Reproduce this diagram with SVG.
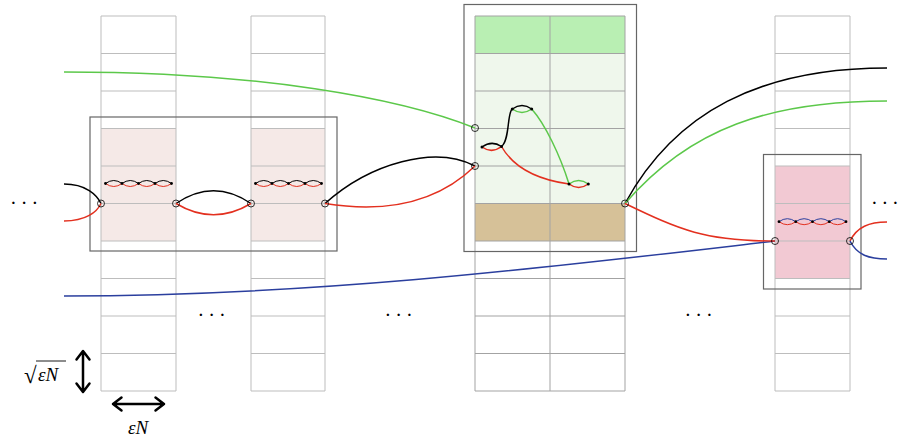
<svg xmlns="http://www.w3.org/2000/svg" width="898" height="438" viewBox="0 0 898 438">
<style>
.grid{stroke:#bdbdbd;stroke-width:1;fill:none}
.gridd{stroke:#a3a3a3;stroke-width:1;fill:none}
.box{stroke:#666;stroke-width:1.2;fill:none}
.c{fill:none;stroke-width:1.5}
.t{fill:none;stroke-width:1}
.k{stroke:#000}
.r{stroke:#e3301f}
.g{stroke:#5cc84a}
.b{stroke:#2b3f9e}
.port{fill:none;stroke:#000;stroke-width:0.8}
.dot{fill:#000}
.lbl{font-family:"Liberation Serif",serif;font-size:19px;font-style:italic;fill:#000}
.ell{font-family:"Liberation Serif",serif;font-size:15px;font-weight:bold;fill:#000}
.arr{fill:none;stroke:#000;stroke-width:2.5;stroke-linecap:round;stroke-linejoin:round}
</style>
<rect width="898" height="438" fill="#fff"/>

<!-- column 1 -->
<g id="col1">
<rect x="101" y="128.5" width="75" height="112.5" fill="#f5e9e7"/>
<path class="grid" d="M101,16V391M176,16V391M101,16H176M101,53.5H176M101,91H176M101,128.5H176M101,166H176M101,203.5H176M101,241H176M101,278.5H176M101,316H176M101,353.5H176M101,391H176"/>
</g>
<!-- column 2 -->
<g id="col2">
<rect x="251" y="128.5" width="74" height="112.5" fill="#f5e9e7"/>
<path class="grid" d="M251,16V391M325,16V391M251,16H325M251,53.5H325M251,91H325M251,128.5H325M251,166H325M251,203.5H325M251,241H325M251,278.5H325M251,316H325M251,353.5H325M251,391H325"/>
</g>
<!-- column 3 (middle) -->
<g id="col3">
<rect x="475" y="16" width="150" height="37.5" fill="#b9efb3"/>
<rect x="475" y="53.5" width="150" height="150" fill="#eff7ec"/>
<rect x="475" y="203.5" width="150" height="37.5" fill="#d6c198"/>
<path class="gridd" d="M475,16V391M550,16V391M625,16V391M475,16H625M475,53.5H625M475,91H625M475,128.5H625M475,166H625M475,203.5H625M475,241H625M475,278.5H625M475,316H625M475,353.5H625M475,391H625"/>
</g>
<!-- column 4 -->
<g id="col4">
<rect x="775" y="166" width="75" height="112.5" fill="#f2c9d3"/>
<path class="grid" d="M775,16V391M850,16V391M775,16H850M775,53.5H850M775,91H850M775,128.5H850M775,166H850M775,203.5H850M775,241H850M775,278.5H850M775,316H850M775,353.5H850M775,391H850"/>
</g>

<!-- boxes -->
<g id="box-left"><rect class="box" x="90" y="117" width="247" height="134"/></g>
<g id="box-mid"><rect class="box" x="464" y="4.5" width="172.5" height="247"/></g>
<g id="box-right"><rect class="box" x="763.5" y="154.5" width="97.5" height="134.5"/></g>

<!-- connectors -->
<g id="connectors">
<path class="c g" d="M64,72 C260,72 400,98 475,128"/>
<path class="c b" d="M64,296 C320,296 560,266 775,241"/>
<path class="c k" d="M64,184 C86,184 97,195 101,203.5"/>
<path class="c r" d="M64,221 C86,221 97,212 101,203.5"/>
<path class="c k" d="M176,203.5 Q213.5,178 251,203.5"/>
<path class="c r" d="M176,203.5 Q213.5,226 251,203.5"/>
<path class="c k" d="M325,203.5 C370,163 435,145 475,166"/>
<path class="c r" d="M325,203.5 C390,214 440,200 475,166"/>
<path class="c k" d="M501.5,146.5 C510,140 507,112 512.3,109"/>
<path class="c g" d="M531.7,109 C545,124 560,155 569,184"/>
<path class="c r" d="M501.5,146.5 C515,170 540,180 569,184"/>
<path class="c k" d="M625,203.5 C675,112 760,68 887,68"/>
<path class="c g" d="M625,203.5 C690,128 770,101 887,101"/>
<path class="c r" d="M625,203.5 C680,230 705,241 775,241"/>
<path class="c r" d="M850,241 C857,227 869,222 887,222"/>
<path class="c b" d="M850,241 C857,255 869,259 887,259"/>
<!-- small loops -->
<path class="t k" d="M105.5,183.5 Q113.75,177.5 122,183.5 Q130.25,177.5 138.5,183.5 Q146.75,177.5 155,183.5 Q163.25,177.5 171.5,183.5"/>
<path class="t r" d="M105.5,183.5 Q113.75,189.5 122,183.5 Q130.25,189.5 138.5,183.5 Q146.75,189.5 155,183.5 Q163.25,189.5 171.5,183.5"/>
<path class="t k" d="M255.5,183.5 Q263.75,177.5 272,183.5 Q280.25,177.5 288.5,183.5 Q296.75,177.5 305,183.5 Q313.25,177.5 321.5,183.5"/>
<path class="t r" d="M255.5,183.5 Q263.75,189.5 272,183.5 Q280.25,189.5 288.5,183.5 Q296.75,189.5 305,183.5 Q313.25,189.5 321.5,183.5"/>
<path class="t b" d="M779,221.7 Q787.4,215.7 795.75,221.7 Q804.1,215.7 812.5,221.7 Q820.9,215.7 829.25,221.7 Q837.6,215.7 846,221.7"/>
<path class="t r" d="M779,221.7 Q787.4,227.7 795.75,221.7 Q804.1,227.7 812.5,221.7 Q820.9,227.7 829.25,221.7 Q837.6,227.7 846,221.7"/>
<path class="c k" d="M482,147 Q491.75,140 501.5,146.5"/>
<path class="c r" d="M482,147 Q491.75,154 501.5,146.5"/>
<path class="c k" d="M512.3,109 Q522,102 531.7,109"/>
<path class="c g" d="M512.3,109 Q522,116 531.7,109"/>
<path class="c g" d="M569,184 Q578.6,177 588.3,184"/>
<path class="c r" d="M569,184 Q578.6,191 588.3,184"/>
</g>

<!-- loop vertices -->
<g id="vertices">
<circle class="dot" cx="105.5" cy="183.5" r="1.4"/><circle class="dot" cx="122" cy="183.5" r="1.4"/><circle class="dot" cx="138.5" cy="183.5" r="1.4"/><circle class="dot" cx="155" cy="183.5" r="1.4"/><circle class="dot" cx="171.5" cy="183.5" r="1.4"/>
<circle class="dot" cx="255.5" cy="183.5" r="1.4"/><circle class="dot" cx="272" cy="183.5" r="1.4"/><circle class="dot" cx="288.5" cy="183.5" r="1.4"/><circle class="dot" cx="305" cy="183.5" r="1.4"/><circle class="dot" cx="321.5" cy="183.5" r="1.4"/>
<circle class="dot" cx="779" cy="221.7" r="1.4"/><circle class="dot" cx="795.75" cy="221.7" r="1.4"/><circle class="dot" cx="812.5" cy="221.7" r="1.4"/><circle class="dot" cx="829.25" cy="221.7" r="1.4"/><circle class="dot" cx="846" cy="221.7" r="1.4"/>
<circle class="dot" cx="482" cy="147" r="1.5"/><circle class="dot" cx="501.5" cy="146.5" r="1.5"/>
<circle class="dot" cx="512.3" cy="109" r="1.5"/><circle class="dot" cx="531.7" cy="109" r="1.5"/>
<circle class="dot" cx="569" cy="184" r="1.5"/><circle class="dot" cx="588.3" cy="184" r="1.5"/>
</g>

<!-- ports -->
<g id="port-1"><circle class="port" cx="101" cy="203.5" r="3.5"/></g>
<g id="port-2"><circle class="port" cx="176" cy="203.5" r="3.5"/></g>
<g id="port-3"><circle class="port" cx="251" cy="203.5" r="3.5"/></g>
<g id="port-4"><circle class="port" cx="325" cy="203.5" r="3.5"/></g>
<g id="port-5"><circle class="port" cx="475" cy="128" r="3.5"/></g>
<g id="port-6"><circle class="port" cx="475" cy="166" r="3.5"/></g>
<g id="port-7"><circle class="port" cx="625" cy="203.5" r="3.5"/></g>
<g id="port-8"><circle class="port" cx="775" cy="241" r="3.5"/></g>
<g id="port-9"><circle class="port" cx="850" cy="241" r="3.5"/></g>

<!-- ellipses -->
<g id="ellipses">
<text class="ell" x="11.5 22.2 32.9" y="203.5">...</text>
<text class="ell" x="199 209.7 220.4" y="315.5">...</text>
<text class="ell" x="386 396.7 407.4" y="315.5">...</text>
<text class="ell" x="686 696.7 707.4" y="315.5">...</text>
<text class="ell" x="872.5 883 893.5" y="203.5">...</text>
</g>

<!-- scale -->
<g id="scale">
<path class="arr" d="M83,352V391M76.5,359.5L83,351L89.5,359.5M76.5,383.5L83,392L89.5,383.5"/>
<path class="arr" d="M113,404H164M121.5,397.5L113,404L121.5,410.5M155.5,397.5L164,404L155.5,410.5"/>
<text x="24" y="383" font-family="Liberation Serif,serif" font-size="23" fill="#000">√</text>
<line x1="36" y1="361" x2="66" y2="361" stroke="#000" stroke-width="0.9"/>
<text class="lbl" x="38" y="381">εN</text>
<text class="lbl" x="138" y="434" text-anchor="middle">εN</text>
</g>
</svg>
